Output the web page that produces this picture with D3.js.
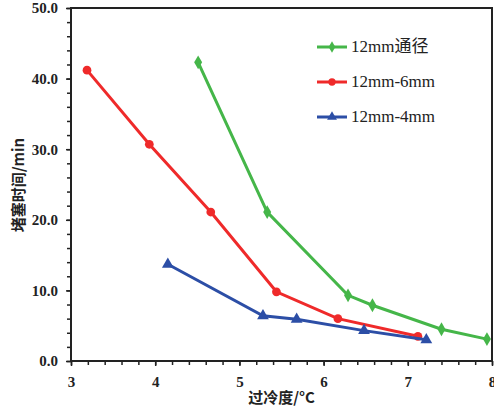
<!DOCTYPE html>
<html>
<head>
<meta charset="utf-8">
<script src="https://cdn.jsdelivr.net/npm/d3@7"></script>
<style>
  body { margin: 0; background: #fff; }
</style>
</head>
<body>
<div id="chart"></div>
<script>
// data
var seriesNames = ["12mm通径", "12mm-6mm", "12mm-4mm"];
var seriesColors = ["#45b649", "#ef2a2a", "#2c4ea6"];
var greenX = [4.51, 5.33, 6.29, 6.58, 7.40, 7.94];
var greenY = [42.3, 21.1, 9.3, 7.9, 4.5, 3.1];
var redX = [3.19, 3.93, 4.66, 5.44, 6.17, 7.12];
var redY = [41.2, 30.7, 21.1, 9.8, 6.0, 3.5];
var blueX = [4.15, 5.28, 5.68, 6.48, 7.22];
var blueY = [13.7, 6.4, 5.9, 4.3, 3.0];
var xTicks = [3, 4, 5, 6, 7, 8];
var yTicks = [0, 10, 20, 30, 40, 50];

var serif = "'Liberation Serif', 'Times New Roman', 'DejaVu Serif', serif";
var width = 494, height = 408;
var margin = {top: 8, right: 2, bottom: 47, left: 71};
var w = width - margin.left - margin.right;
var h = height - margin.top - margin.bottom;

var svg = d3.select("#chart").append("svg")
  .attr("width", width).attr("height", height);
var g = svg.append("g").attr("transform", "translate(" + margin.left + "," + margin.top + ")");

var xScale = d3.scaleLinear().domain([3, 8]).range([0, w]);
var yScale = d3.scaleLinear().domain([0, 50]).range([h, 0]);

// minor ticks
g.append("g").attr("transform", "translate(0," + h + ")")
  .call(d3.axisBottom(xScale).tickValues(d3.range(3, 8.01, 0.2)).tickSize(4).tickFormat(""))
  .call(function(a) { a.select(".domain").remove(); })
  .selectAll("line").attr("stroke", "#222").attr("stroke-width", 1.5);
g.append("g")
  .call(d3.axisLeft(yScale).tickValues(d3.range(0, 50.01, 2)).tickSize(4).tickFormat(""))
  .call(function(a) { a.select(".domain").remove(); })
  .selectAll("line").attr("stroke", "#222").attr("stroke-width", 1.5);

// major axes
var xAxis = g.append("g").attr("transform", "translate(0," + h + ")")
  .call(d3.axisBottom(xScale).tickValues(xTicks).tickSize(5).tickPadding(10).tickFormat(d3.format("d")));
var yAxis = g.append("g")
  .call(d3.axisLeft(yScale).tickValues(yTicks).tickSize(5).tickPadding(8).tickFormat(d3.format(".1f")));
[xAxis, yAxis].forEach(function(a) {
  a.select(".domain").remove();
  a.selectAll("line").attr("stroke", "#222").attr("stroke-width", 1.5);
  a.selectAll("text")
    .style("font-family", serif).style("font-weight", "bold")
    .style("font-size", "15px").style("fill", "#222");
});

// frame
g.append("rect").attr("x", 0).attr("y", 0).attr("width", w).attr("height", h)
  .attr("fill", "none").attr("stroke", "#222").attr("stroke-width", 2);

// series
var series = [
  {x: greenX, y: greenY, shape: d3.symbolDiamond, size: 55},
  {x: redX, y: redY, shape: d3.symbolCircle, size: 60},
  {x: blueX, y: blueY, shape: d3.symbolTriangle, size: 60}
];
var line = d3.line().x(function(d) { return xScale(d[0]); }).y(function(d) { return yScale(d[1]); });

series.forEach(function(s, i) {
  var pts = s.x.map(function(v, j) { return [v, s.y[j]]; });
  g.append("path").datum(pts).attr("d", line)
    .attr("fill", "none").attr("stroke", seriesColors[i]).attr("stroke-width", 3);
  g.selectAll(".pt" + i).data(pts).enter().append("path")
    .attr("class", "pt" + i)
    .attr("transform", function(d) { return "translate(" + xScale(d[0]) + "," + yScale(d[1]) + ")"; })
    .attr("d", d3.symbol().type(s.shape).size(s.size))
    .attr("fill", seriesColors[i]);
});

// legend
var leg = svg.append("g").attr("transform", "translate(317,47)");
seriesNames.forEach(function(name, i) {
  var r = leg.append("g").attr("transform", "translate(0," + (i * 35) + ")");
  r.append("line").attr("x1", 0).attr("x2", 30).attr("y1", 0).attr("y2", 0)
    .attr("stroke", seriesColors[i]).attr("stroke-width", 3);
  r.append("path").attr("transform", "translate(15,0)")
    .attr("d", d3.symbol().type(series[i].shape).size(series[i].size * 0.7))
    .attr("fill", seriesColors[i]);
  r.append("text").attr("x", 34).attr("y", 5)
    .style("font-family", serif + ", 'Noto Sans CJK SC'")
    .style("font-size", "17px").style("fill", "#222")
    .text(name);
});

// axis labels
svg.append("text")
  .attr("x", margin.left + w / 2).attr("y", 403)
  .attr("text-anchor", "middle")
  .style("font-family", "'Noto Sans CJK SC', sans-serif").style("font-weight", "bold")
  .style("font-size", "15px").style("fill", "#222")
  .text("过冷度/°C");
svg.append("text")
  .attr("transform", "translate(24,185) rotate(-90)")
  .attr("text-anchor", "middle")
  .style("font-family", "'Noto Sans CJK SC', sans-serif").style("font-weight", "bold")
  .style("font-size", "15px").style("fill", "#222")
  .text("堵塞时间/min");
</script>
</body>
</html>
